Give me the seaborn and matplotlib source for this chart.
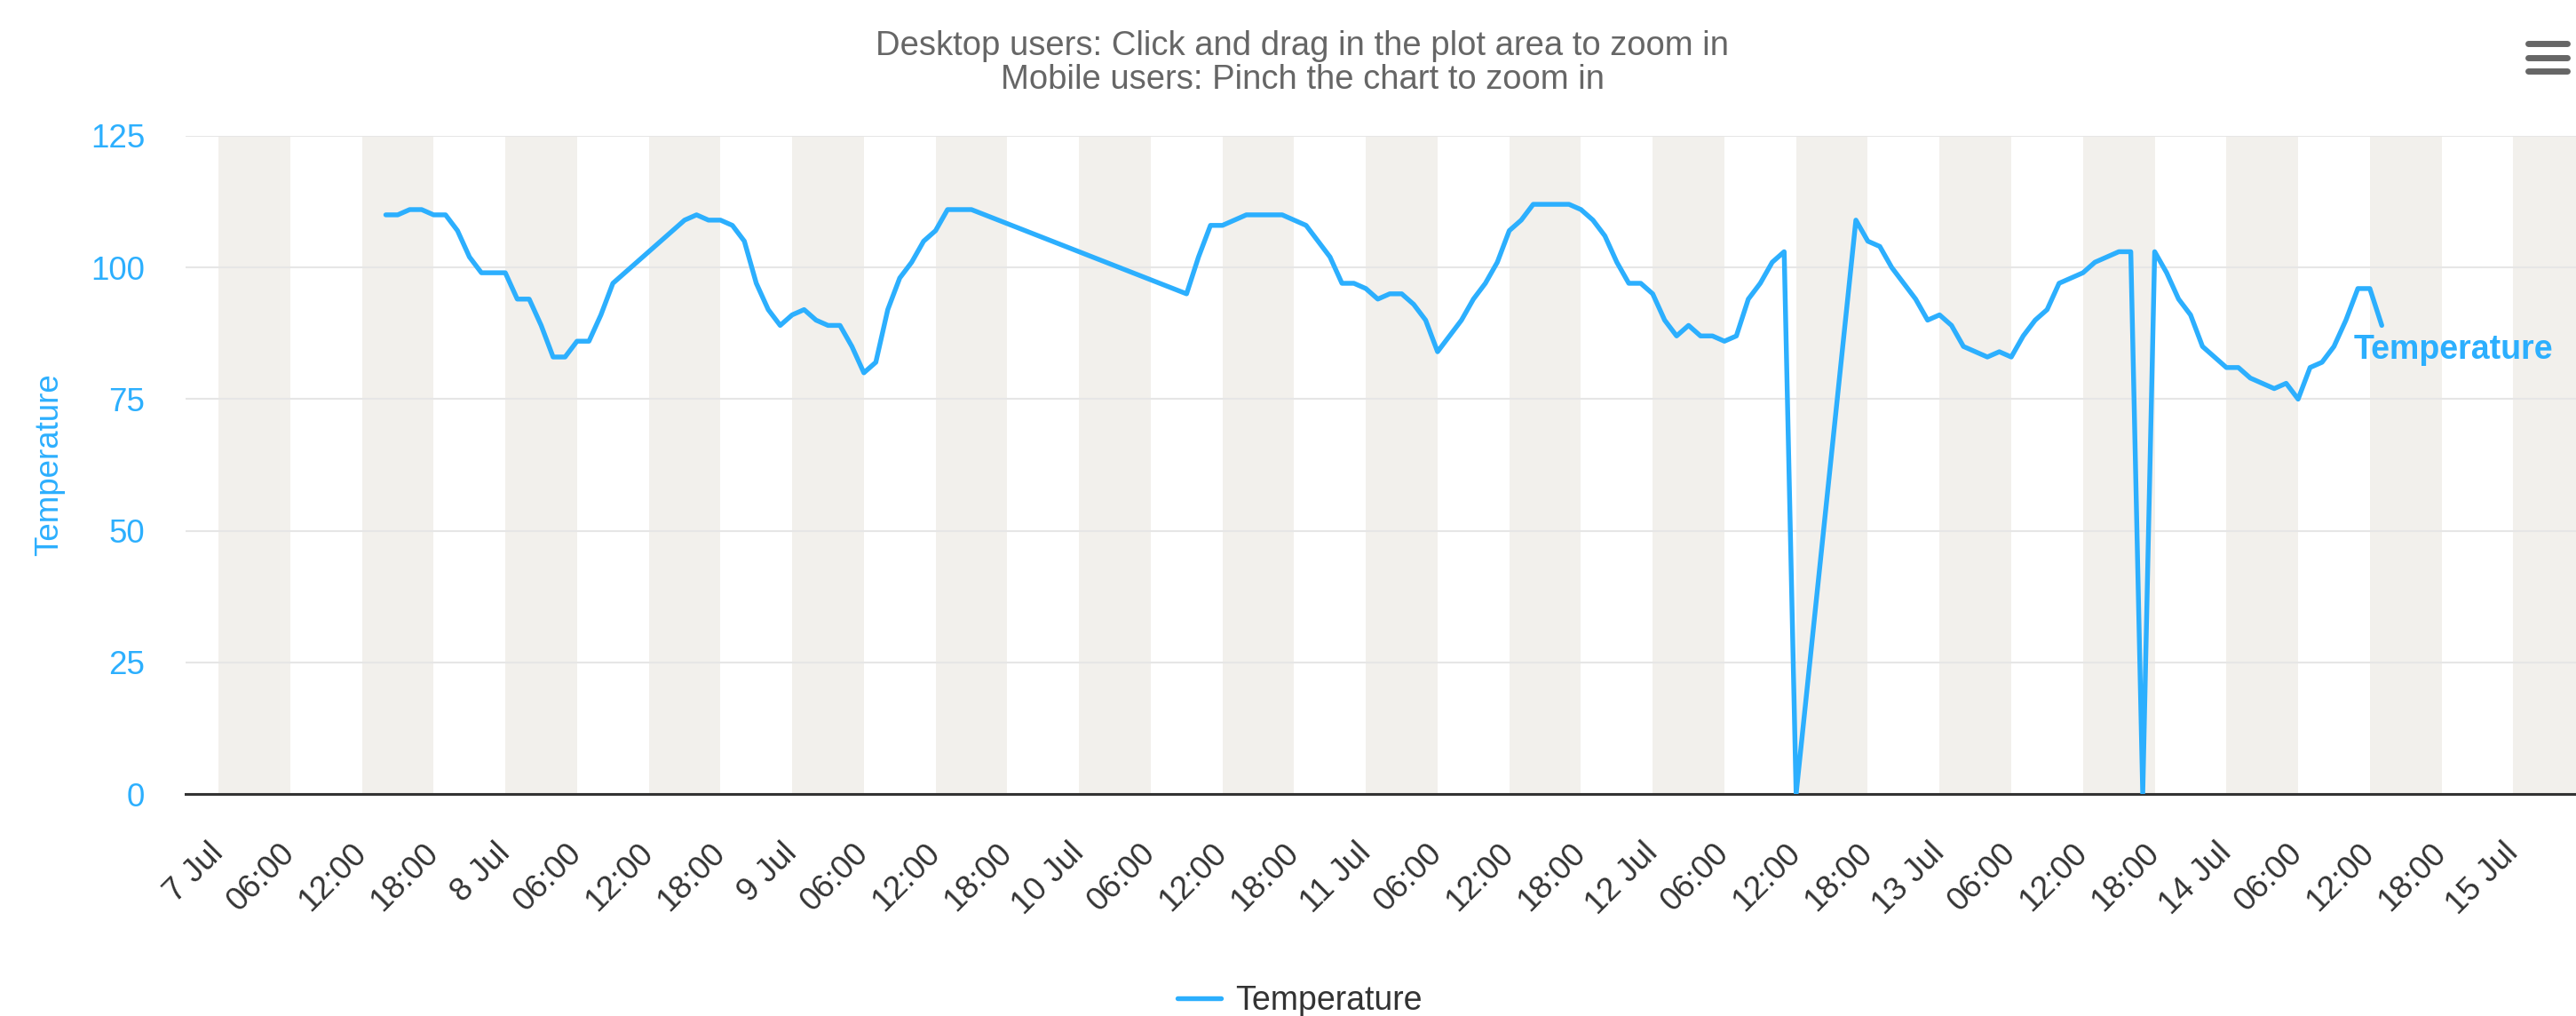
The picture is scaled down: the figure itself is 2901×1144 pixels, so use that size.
import matplotlib
matplotlib.use("Agg")
import matplotlib.pyplot as plt
from matplotlib.lines import Line2D
import seaborn as sns
import pandas as pd

# Hours after 7 Jul 00:00 and the temperature reading at that hour
hours = [
    14, 15, 16, 17, 18, 19, 20, 21, 22, 23, 24, 25, 26, 27, 28, 29, 30, 31, 32, 33,
    39, 40, 41, 42, 43, 44, 45, 46, 47, 48, 49, 50, 51, 52, 53, 54, 55, 56, 57, 58,
    59, 60, 61, 62, 63,
    81, 82, 83, 84, 85, 86, 87, 88, 89, 90, 91, 92, 93, 94, 95, 96, 97, 98, 99, 100,
    101, 102, 103, 104, 105, 106, 107, 108, 109, 110, 111, 112, 113, 114, 115, 116,
    117, 118, 119, 120, 121, 122, 123, 124, 125, 126, 127, 128, 129, 130, 131, 132,
    137, 138, 139, 140, 141, 142, 143, 144, 145, 146, 147, 148, 149, 150, 151, 152,
    153, 154, 155, 156, 157, 158, 159, 160, 161, 162, 163, 164, 165, 166, 167, 168,
    169, 170, 171, 172, 173, 174, 175, 176, 177, 178, 179, 180, 181,
]
temps = [
    110, 110, 111, 111, 110, 110, 107, 102, 99, 99, 99, 94, 94, 89, 83, 83, 86, 86, 91, 97,
    109, 110, 109, 109, 108, 105, 97, 92, 89, 91, 92, 90, 89, 89, 85, 80, 82, 92, 98, 101,
    105, 107, 111, 111, 111,
    95, 102, 108, 108, 109, 110, 110, 110, 110, 109, 108, 105, 102, 97, 97, 96, 94, 95, 95, 93,
    90, 84, 87, 90, 94, 97, 101, 107, 109, 112, 112, 112, 112, 111, 109, 106,
    101, 97, 97, 95, 90, 87, 89, 87, 87, 86, 87, 94, 97, 101, 103, 0,
    109, 105, 104, 100, 97, 94, 90, 91, 89, 85, 84, 83, 84, 83, 87, 90,
    92, 97, 98, 99, 101, 102, 103, 103, 0, 103, 99, 94, 91, 85, 83, 81,
    81, 79, 78, 77, 78, 75, 81, 82, 85, 90, 96, 96, 89,
]
yTicks = [0, 25, 50, 75, 100, 125]
titleText = "Desktop users: Click and drag in the plot area to zoom in\nMobile users: Pinch the chart to zoom in"
seriesName = "Temperature"

start = pd.Timestamp("2023-07-07 00:00")
df = pd.DataFrame({
    "time": [start + pd.Timedelta(hours=h) for h in hours],
    "temp": temps,
})

blue = "#2caffe"
bandColor = "#f2f0ec"
W, H = 2901, 1144

sns.set_style("white")
plt.rcParams["font.family"] = ["Liberation Sans", "DejaVu Sans"]

fig = plt.figure(figsize=(W / 100, H / 100), dpi=100)
axLeft, axRight, axTop, axBottom = 209, 2901, 153, 894
ax = fig.add_axes([axLeft / W, 1 - axBottom / H, (axRight - axLeft) / W, (axBottom - axTop) / H])

# Night/afternoon bands: 00-06 and 12-18 every day
for day in range(9):
    for off in (0, 12):
        s = start + pd.Timedelta(hours=day * 24 + off)
        ax.axvspan(s, s + pd.Timedelta(hours=6), color=bandColor, lw=0, zorder=0)

sns.lineplot(data=df, x="time", y="temp", ax=ax, color=blue, linewidth=3.9,
             legend=False, zorder=3)

ax.set_xlim(start - pd.Timedelta(hours=2.75), start + pd.Timedelta(hours=197.25))
ax.set_ylim(0, 125)

# y axis
ax.set_yticks(yTicks)
ax.set_yticklabels([str(v) for v in yTicks])
ax.tick_params(axis="y", length=0, pad=33, labelsize=26.5, labelcolor=blue)
ax.yaxis.grid(True, color="#e6e6e6", linewidth=1.5)
ax.set_axisbelow(True)
ax.set_ylabel("Temperature", color=blue, fontsize=26.5)
ax.yaxis.label.set_va("center")
ax.yaxis.set_label_coords((56 - axLeft) / (axRight - axLeft), 0.5)

# x axis: ticks every 6 hours
tickTimes = [start + pd.Timedelta(hours=6 * i) for i in range(33)]
tickLabels = [t.strftime("%-d %b") if t.hour == 0 else t.strftime("%H:%M") for t in tickTimes]
ax.set_xticks(tickTimes)
ax.set_xticklabels(tickLabels, rotation=45, ha="right", va="center", rotation_mode="anchor")
ax.tick_params(axis="x", length=20, width=2.2, color="#333333", pad=24,
               labelsize=26.5, labelcolor="#333333", direction="out")
ax.set_xlabel("")

for side in ("left", "right", "top"):
    ax.spines[side].set_visible(False)
ax.spines["bottom"].set_color("#333333")
ax.spines["bottom"].set_linewidth(2.2)

# data label at the last point
ax.annotate(seriesName, (df["time"].iloc[-1], df["temp"].iloc[-1]), xytext=(-32, -38),
            textcoords="offset pixels", ha="left", va="baseline", color=blue,
            fontsize=27, fontweight="bold", zorder=4)

fig.text(1467 / W, 1 - 71 / H, titleText, ha="center", va="center", color="#666666",
         fontsize=27.5, linespacing=1.05)

handle = Line2D([], [], color=blue, linewidth=3.9, solid_capstyle="round")
fig.legend([handle], [seriesName], loc="center", bbox_to_anchor=(1464 / W, 1 - 1127 / H),
           frameon=False, fontsize=27, handlelength=1.3, handletextpad=0.45,
           borderpad=0, labelcolor="#333333")

# export menu icon
for yy in (49, 64.5, 80):
    fig.add_artist(Line2D([2847 / W, 2891 / W], [1 - yy / H, 1 - yy / H],
                          transform=fig.transFigure, color="#666666", linewidth=5,
                          solid_capstyle="round"))

fig.savefig("out.png", dpi=100)
